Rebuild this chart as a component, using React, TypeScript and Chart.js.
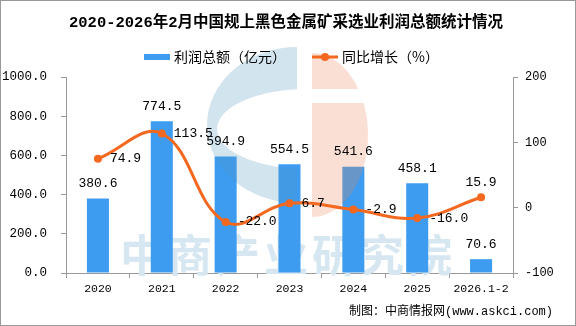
import React, { useEffect, useRef } from 'react';
import { Chart, registerables } from 'chart.js';

Chart.register(...registerables);

const title = '2020-2026年2月中国规上黑色金属矿采选业利润总额统计情况';
const categories = ['2020', '2021', '2022', '2023', '2024', '2025', '2026.1-2'];
const profit = [380.6, 774.5, 594.9, 554.5, 541.6, 458.1, 70.6];
const growth = [74.9, 113.5, -22.0, 6.7, -2.9, -16.0, 15.9];
const barLegend = '利润总额（亿元）';
const lineLegend = '同比增长（%）';
const footer = '制图：中商情报网(www.askci.com)';
const watermark = '中商产业研究院';

const MONO = '"Liberation Mono", "Noto Sans CJK SC", monospace';
const BAR_COLOR = '#3E9CF0';
const LINE_COLOR = '#F5681F';
const AXIS_COLOR = '#999999';

const decor = {
  id: 'decor',
  beforeDraw(chart: any) {
    const ctx = chart.ctx;
    ctx.save();
    ctx.fillStyle = '#ffffff';
    ctx.fillRect(0, 0, chart.width, chart.height);
    ctx.restore();
  },
  beforeDatasetsDraw(chart: any) {
    const ctx = chart.ctx;
    ctx.save();
    ctx.fillStyle = '#D6E7F1';
    ctx.font = 'bold 44px "Noto Sans CJK SC", sans-serif';
    ctx.textAlign = 'center';
    ctx.textBaseline = 'middle';
    const chars = Array.from(watermark);
    chars.forEach((c, i) => ctx.fillText(c, 142 + 48 * i, 255));
    ctx.restore();
  },
  beforeDatasetDraw(chart: any, args: any) {
    if (args.meta.type !== 'line') return;
    const ctx = chart.ctx;
    // blue crescent
    ctx.save();
    ctx.globalAlpha = 0.25;
    ctx.beginPath();
    ctx.rect(0, 0, 297, chart.height);
    ctx.clip();
    ctx.beginPath();
    ctx.ellipse(297, 125, 90, 78, 0, 0, Math.PI * 2);
    ctx.ellipse(307, 129, 90, 40, 0, 0, Math.PI * 2);
    ctx.fillStyle = 'rgb(75,147,187)';
    ctx.fill('evenodd');
    ctx.restore();
    // orange half
    ctx.save();
    ctx.globalAlpha = 0.25;
    ctx.beginPath();
    ctx.rect(312, 0, 200, 89);
    ctx.rect(312, 103, 200, 200);
    ctx.clip();
    ctx.beginPath();
    ctx.ellipse(312, 135, 56, 82, 0, 0, Math.PI * 2);
    ctx.fillStyle = 'rgb(235,131,83)';
    ctx.fill();
    ctx.restore();
  },
  afterDatasetsDraw(chart: any) {
    const ctx = chart.ctx;
    ctx.save();
    ctx.fillStyle = '#000';
    ctx.font = `13px ${MONO}`;
    ctx.textBaseline = 'middle';
    chart.data.datasets.forEach((ds: any, di: number) => {
      const meta = chart.getDatasetMeta(di);
      meta.data.forEach((el: any, i: number) => {
        const v = ds.data[i] as number;
        const txt = v.toFixed(1);
        if (meta.type === 'bar') {
          ctx.textAlign = 'center';
          ctx.fillText(txt, el.x, el.y - 15);
        } else {
          if (i === meta.data.length - 1) {
            ctx.textAlign = 'center';
            ctx.fillText(txt, el.x, el.y - 15);
          } else {
            ctx.textAlign = 'left';
            ctx.fillText(txt, el.x + 12, el.y);
          }
        }
      });
    });
    ctx.restore();
  },
  afterDraw(chart: any) {
    const ctx = chart.ctx;
    ctx.save();
    // title
    ctx.fillStyle = '#000';
    ctx.textBaseline = 'middle';
    ctx.textAlign = 'center';
    ctx.font = `bold 15.5px ${MONO}`;
    ctx.fillText(title, 286, 23);
    // legend
    ctx.font = '14px "Noto Sans CJK SC", sans-serif';
    ctx.textAlign = 'left';
    ctx.fillStyle = BAR_COLOR;
    ctx.fillRect(144, 54, 26, 6);
    ctx.fillStyle = '#000';
    ctx.fillText(barLegend, 174, 57);
    ctx.strokeStyle = LINE_COLOR;
    ctx.lineWidth = 3;
    ctx.beginPath();
    ctx.moveTo(312, 57);
    ctx.lineTo(338, 57);
    ctx.stroke();
    ctx.fillStyle = LINE_COLOR;
    ctx.beginPath();
    ctx.arc(325, 57, 4, 0, Math.PI * 2);
    ctx.fill();
    ctx.fillStyle = '#000';
    ctx.fillText(lineLegend, 342, 57);
    // footer
    ctx.font = `12px ${MONO}`;
    ctx.textAlign = 'right';
    ctx.fillText(footer, 553, 312);
    // border
    ctx.strokeStyle = '#999';
    ctx.lineWidth = 1;
    ctx.strokeRect(0.5, 0.5, chart.width - 1, chart.height - 1);
    ctx.restore();
  },
};

export default function App() {
  const ref = useRef<HTMLCanvasElement | null>(null);
  useEffect(() => {
    document.body.style.margin = '0';
    const canvas = ref.current;
    if (!canvas) return;
    const chart = new Chart(canvas, {
      type: 'bar',
      data: {
        labels: categories,
        datasets: [
          {
            type: 'line',
            label: lineLegend,
            data: growth,
            yAxisID: 'y1',
            borderColor: LINE_COLOR,
            backgroundColor: LINE_COLOR,
            borderWidth: 3,
            pointRadius: 4,
            pointBackgroundColor: LINE_COLOR,
            pointBorderWidth: 0,
            tension: 0.4,
            order: 0,
          } as any,
          {
            type: 'bar',
            label: barLegend,
            data: profit,
            yAxisID: 'y',
            backgroundColor: BAR_COLOR,
            barPercentage: 0.345,
            categoryPercentage: 1,
            order: 1,
          } as any,
        ],
      },
      options: {
        responsive: false,
        animation: false,
        devicePixelRatio: 1,
        layout: { padding: { top: 77, left: 0, right: 0, bottom: 0 } },
        plugins: {
          legend: { display: false },
          tooltip: { enabled: false },
          title: { display: false },
        },
        scales: {
          x: {
            grid: { offset: true, drawOnChartArea: false, drawTicks: true, tickLength: 5, color: AXIS_COLOR },
            border: { display: true, color: AXIS_COLOR },
            ticks: { color: '#000', font: { family: MONO, size: 11.5 }, padding: 4, maxRotation: 0, autoSkip: false },
            afterFit: (s: any) => { s.height = 53; },
          },
          y: {
            position: 'left',
            min: 0,
            max: 1000,
            ticks: {
              stepSize: 200,
              color: '#000',
              font: { family: MONO, size: 12.5 },
              padding: 14,
              callback: (v: any) => Number(v).toFixed(1),
            },
            grid: { drawOnChartArea: false, drawTicks: true, tickLength: 5, color: AXIS_COLOR },
            border: { display: true, color: AXIS_COLOR },
            afterFit: (s: any) => { s.width = 66; },
          },
          y1: {
            position: 'right',
            min: -100,
            max: 200,
            ticks: {
              stepSize: 100,
              color: '#000',
              font: { family: MONO, size: 12 },
              padding: 7,
            },
            grid: { drawOnChartArea: false, drawTicks: true, tickLength: 5, color: AXIS_COLOR },
            border: { display: true, color: AXIS_COLOR },
            afterFit: (s: any) => { s.width = 63; },
          },
        },
      } as any,
      plugins: [decor],
    });
    return () => chart.destroy();
  }, []);
  return (
    <div style={{ width: 576, height: 326 }}>
      <canvas ref={ref} width={576} height={326} style={{ display: 'block' }} />
    </div>
  );
}
